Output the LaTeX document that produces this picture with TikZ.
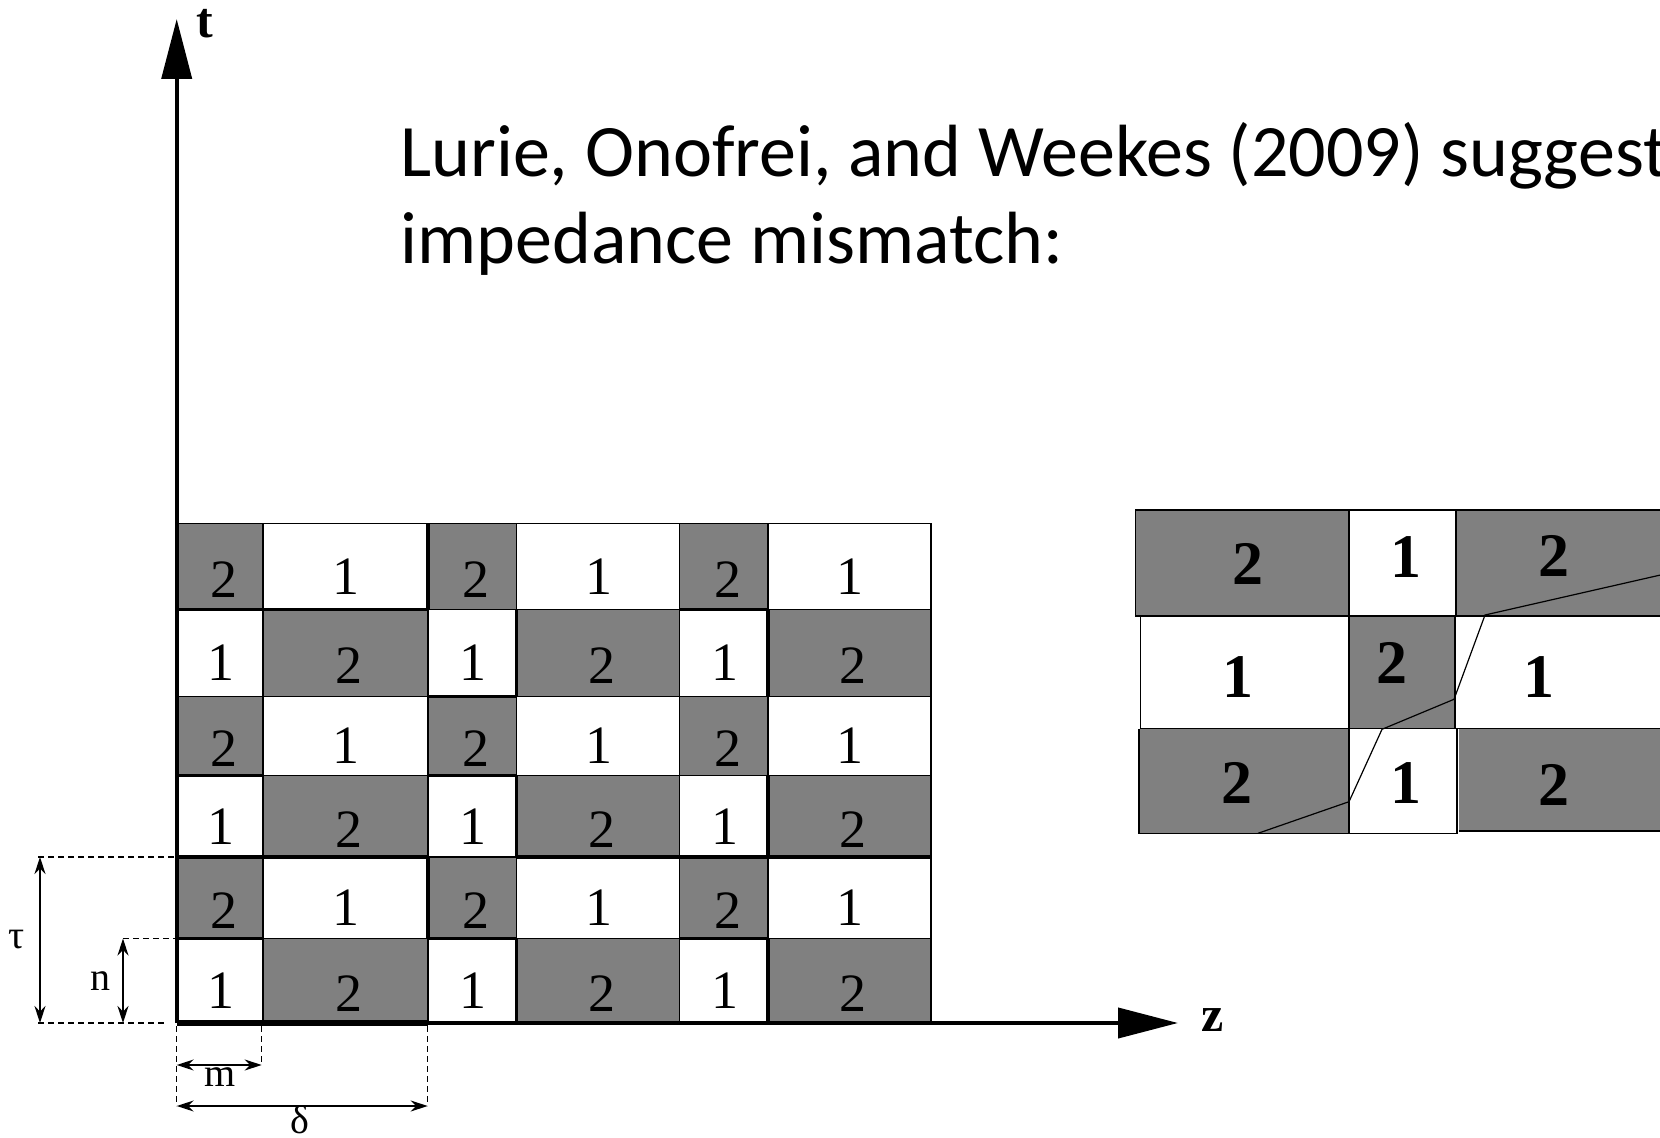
\documentclass[tikz,border=0pt]{standalone}
\usepackage{fontspec}
\setmainfont{Liberation Serif}
\newfontfamily\calib{Carlito}
\usetikzlibrary{arrows.meta}
\definecolor{graycell}{RGB}{128,128,128}
\begin{document}
\begin{tikzpicture}[x=0.5pt,y=-0.5pt,
  gridthin/.style={line width=0.8pt},
  gridthick/.style={line width=1.8pt},
  panelline/.style={line width=0.7pt},
  zig/.style={line width=0.6pt},
  dig/.style={font=\fontsize{27}{27}\selectfont, inner sep=0pt},
  bdig/.style={font=\fontsize{31}{31}\selectfont\bfseries, inner sep=0pt},
  dimline/.style={line width=0.75pt, {Stealth[length=8.5pt,width=5.5pt]}-{Stealth[length=8.5pt,width=5.5pt]}},
  dashline/.style={line width=0.75pt, dash pattern=on 3pt off 2pt},
  axis/.style={line width=2pt, -{Triangle[length=30pt,width=15pt]}},
  lbl/.style={font=\fontsize{20}{20}\selectfont, inner sep=0pt},
  axlbl/.style={font=\fontsize{25}{25}\selectfont\bfseries, inner sep=0pt},
  body/.style={font=\calib\fontsize{37}{44}\selectfont, inner sep=0pt, anchor=base west}
]
\fill[white] (0,0) rectangle (1660,1138);
\useasboundingbox (0,0) rectangle (1660,1138);
\clip (0,0) rectangle (1660,1138);

% ---------- left grid: cells and digits ----------
\foreach \r/\ya/\yb in {1/523.5/609.5,2/609.5/696.5,3/696.5/775.5,4/775.5/857,5/857/938.5,6/938.5/1023}{
  \foreach \c/\xa/\xb in {1/176.7/262.7,2/262.7/427.7,3/427.7/516.3,4/516.3/679.5,5/679.5/767.7,6/767.7/930.7}{
    \pgfmathtruncatemacro{\odd}{mod(\r+\c,2)}
    \ifnum\odd=0
      \fill[graycell] (\xa,\ya) rectangle (\xb,\yb);
      \node[dig] (L\r\c) at ({(\xa+\xb)/2+4},{(\ya+\yb)/2+13}) {2};
    \else
      \node[dig] (L\r\c) at ({(\xa+\xb)/2+1},{(\ya+\yb)/2+10}) {1};
    \fi
  }
}
% thin grid lines
\foreach \y in {523.5,609.5,696.5,775.5,857,938.5}{
  \draw[gridthin] (176.7,\y) -- (930.7,\y);
}
\foreach \x in {262.7,427.7,516.3,679.5,767.7,930.7}{
  \draw[gridthin] (\x,523.5) -- (\x,1023);
}
% thick segments
\draw[gridthick] (176.7,609.5) -- (427.7,609.5);
\draw[gridthick] (679.5,609.5) -- (767.7,609.5);
\draw[gridthick] (427.7,696.5) -- (516.3,696.5);
\draw[gridthick] (176.7,775.5) -- (262.7,775.5);
\draw[gridthick] (427.7,775.5) -- (516.3,775.5);
\draw[gridthick] (176.7,857) -- (427.7,857);
\draw[gridthick] (516.3,857) -- (930.7,857);
\draw[gridthick] (176.7,938.5) -- (262.7,938.5);
\draw[gridthick] (427.7,938.5) -- (516.3,938.5);
\draw[gridthick] (679.5,938.5) -- (767.7,938.5);
\draw[gridthick] (427.7,523.5) -- (427.7,609.5);
\draw[gridthick] (427.7,857) -- (427.7,938.5);
\foreach \ya/\yb in {609.5/696.5,775.5/857,938.5/1023}{
  \draw[gridthick] (516.3,\ya) -- (516.3,\yb);
  \draw[gridthick] (767.7,\ya) -- (767.7,\yb);
}

% ---------- axes ----------
\coordinate (O) at (176.7,1023);
\coordinate (tTip) at (176.7,19);
\coordinate (zTip) at (1178,1023);
\draw[axis] (O) -- (tTip);
\draw[axis] (O) -- (zTip);
\draw[line width=2.6pt] (176.7,1023) -- (427.7,1023);
\node[axlbl] (tlab) at (205,24) {t};
\node[axlbl] (zlab) at (1213,1020) {z};

% ---------- dimensions ----------
\coordinate (tauTop) at (40,857);
\coordinate (tauBot) at (40,1023);
\coordinate (nTop) at (123,938.5);
\coordinate (nBot) at (123,1023);
\coordinate (mL) at (176.7,1065);
\coordinate (mR) at (261.7,1065);
\coordinate (dL) at (176.7,1106);
\coordinate (dR) at (427.7,1106);
\draw[dashline] (38,857) -- (176.7,857);
\draw[dashline] (123,938.5) -- (176.7,938.5);
\draw[dashline] (38,1023) -- (167,1023);
\draw[dashline] (176.7,1026) -- (dL);
\draw[dashline] (261.7,1026) -- (mR);
\draw[dashline] (427.7,1026) -- (dR);
\draw[dimline] (tauTop) -- (tauBot);
\draw[dimline] (nTop) -- (nBot);
\draw[dimline] (mL) -- (mR);
\draw[dimline] (dL) -- (dR);
\node[lbl] (taulab) at (17,940) {τ};
\node[lbl] (nlab) at (100,981) {n};
\node[lbl] (mlab) at (220,1077) {m};
\node[lbl] (dlab) at (300,1120) {δ};

% ---------- right panel ----------
\fill[graycell] (1135.5,510) rectangle (1349,616);
\fill[graycell] (1456,510) rectangle (1680,616);
\fill[graycell] (1349,616) rectangle (1455,728.5);
\fill[graycell] (1139,728.5) rectangle (1349,833.5);
\fill[graycell] (1459,728.5) rectangle (1680,831);
\draw[panelline] (1135.5,510) rectangle (1680,616);
\draw[panelline] (1349,510) -- (1349,616);
\draw[panelline] (1456,510) -- (1456,616);
\draw[panelline] (1140.7,616) rectangle (1680,728.5);
\draw[panelline] (1349,616) -- (1349,728.5);
\draw[panelline] (1455,616) -- (1455,728.5);
\draw[panelline] (1139,728.5) -- (1139,833.5) -- (1457,833.5);
\draw[panelline] (1349,728.5) -- (1349,833.5);
\draw[panelline] (1457,728.5) -- (1457,833.5);
\draw[panelline] (1459,831) -- (1680,831);
\draw[zig] (1258,833.3) -- (1349,801.7) -- (1382,729.3) -- (1454,699.3) -- (1485,615) -- (1700,566);
\node[bdig] (R11) at (1248,564) {2};
\node[bdig] (R12) at (1406,557) {1};
\node[bdig] (R13) at (1554,556) {2};
\node[bdig] (R21) at (1238,677) {1};
\node[bdig] (R22) at (1392,663) {2};
\node[bdig] (R23) at (1539,677) {1};
\node[bdig] (R31) at (1237,783) {2};
\node[bdig] (R32) at (1406,783) {1};
\node[bdig] (R33) at (1554,785) {2};

% ---------- text ----------
\node[body] (txt1) at (400,177) {Lurie, Onofrei, and Weekes (2009) suggest};
\node[body] (txt2) at (400,264) {impedance mismatch:};
\end{tikzpicture}
\end{document}
